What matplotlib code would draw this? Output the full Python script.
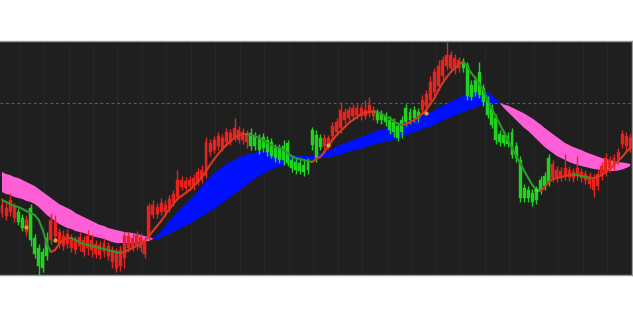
import numpy as np
import matplotlib
matplotlib.use("Agg")
import matplotlib.pyplot as plt
from matplotlib.collections import LineCollection, PolyCollection

# ---- data (screen-depth units, converted to price below) ----
opens = [213,216,212,218,212,218,232,208,238,248,252,238,240,236,244,246,244,248,250,246,
         252,248,250,254,255,252,256,262,268,266,258,248,247,245,248,254,236,215,214,212,
         212,208,203,197,187,188,186,186,182,180,176,152,150,146,148,142,142,138,140,140,
         142,133,136,138,137,140,142,148,148,146,143,160,162,163,165,162,130,135,138,146,
         146,136,132,128,120,118,116,115,116,116,113,116,112,114,116,120,122,126,120,108,
         112,110,112,110,106,100,92,86,76,66,68,70,68,62,65,85,80,72,88,100,
         108,118,134,135,136,132,146,160,188,190,193,190,180,176,158,178,178,177,176,177,
         178,176,178,180,184,190,186,176,172,168,166,160,144,146,148]
closes = [205,208,200,207,222,228,220,240,254,266,268,256,220,222,232,236,234,238,240,237,
          240,236,240,244,245,243,246,250,252,250,236,236,238,235,237,240,206,205,207,203,
          205,199,194,180,180,181,180,178,172,170,142,143,140,136,138,132,133,128,130,132,
          134,146,146,150,148,152,156,158,160,160,163,168,170,171,172,170,145,158,147,138,
          138,126,122,110,112,110,108,108,108,110,105,110,120,120,122,130,132,138,132,122,
          120,118,118,100,94,82,72,66,60,55,55,58,60,68,96,97,92,95,102,115,
          125,140,142,143,144,155,158,198,198,198,202,200,190,186,183,164,170,171,168,170,
          172,168,172,174,176,178,174,166,158,160,158,152,134,136,138]
highs = [198,202,193,203,208,214,215,204,234,244,248,232,213,215,228,230,229,234,236,232,
         236,230,234,240,241,238,242,246,248,246,232,232,233,231,233,236,203,200,203,198,
         200,195,190,170,176,177,176,174,168,165,137,139,136,132,134,128,129,118,126,128,
         130,128,132,134,133,136,138,144,144,140,140,156,158,159,160,158,127,130,134,134,
         135,122,118,102,108,106,104,104,104,100,97,106,109,110,112,116,118,122,116,104,
         108,106,108,95,90,76,68,60,56,42,51,54,57,58,62,80,76,62,84,96,
         104,114,130,131,132,128,142,156,184,186,189,186,176,172,154,160,166,167,154,166,
         168,156,168,170,172,174,170,162,153,156,154,148,130,132,134]
lows = [217,220,216,222,225,231,236,246,258,276,272,260,244,240,248,250,248,252,254,251,
        256,255,257,258,259,257,260,268,272,271,268,252,251,250,252,258,240,218,218,215,
        216,212,206,200,190,191,190,190,185,183,178,156,153,150,151,146,145,141,143,144,
        148,150,150,154,152,156,158,162,163,165,166,172,174,174,176,174,150,162,150,149,
        149,140,135,133,124,122,120,119,120,119,117,120,123,124,126,134,137,141,138,126,
        124,122,122,114,110,104,96,90,80,70,72,74,72,72,100,100,96,98,106,118,
        128,144,146,146,147,158,162,202,202,202,206,204,194,190,186,182,182,181,180,181,
        182,180,182,184,188,197,190,180,176,172,170,164,148,150,152]

# fast moving average (colored line)
ma_line = [200,202,204,206,207,209,211,213,215,220,230,244,252,250,244,240,238,238,240,242,
           244,245,246,247,248,249,250,251,252,253,252,250,248,246,244,241,236,231,226,221,
           215,209,204,199,196,193,190,186,182,177,171,165,159,154,149,145,141,138,135,134,
           134,135,136,138,140,143,145,147,148,150,153,156,158,159,160,161,162,159,157,152,
           146,140,135,131,127,123,120,117,114,113,112,111.5,112,114,116,118,121,124,125,124,
           122,120,117,114,110,104,98,90,83,77,72,68,64,62,66,73,78,84,90,100,
           108,116,124,132,140,148,156,163,171,178,185,190,191,187,182,179,178,177,176,175,
           174.5,175,176,177,178,178,177,175,172,169,165,161,157,152,148]

# band EMAs
ema_fast = [192,194,195,197,198,199,201,202,204,207,211,215,218,221,224,226,228,229,231,232,
            233,234.5,236,237,238,239,240.5,242,243,243,243,243,243,242.5,242,241.5,241,239,234,230,
            225,220,216,211,207,203,199,195,190,185,180,176,172,169,166,163,161,159,157,155,
            154,153,152,151,150.5,150,150,150.5,151,152,153,154.5,155,155,155,155.5,155.5,154,152.5,151,
            150,148,146,144,142.5,141,139.5,138,136.5,135,133,131.5,130,129,127.5,126,125,123.5,122,121,
            120,118.5,117,115,113,111.5,109.5,107,105,103,101,99,97,95,93,91.5,90.5,90,90,92,
            95,99,103,108,112,116,120,124,128,131,135,139,143,147,150,153,156,158,160,162,
            163.5,165,166,167,168,169,169.5,170,170.5,171,171,170.5,169.5,168,166]
ema_slow = [172,174,175,177,178,180,182,184,186,189,192,195,198,201,204,206,208,210,213,215,
            217,219,221,223,225,226,228,229,230,231,232,232.5,233,234,235,236,237,238.5,238.5,237,
            235,233,231,229,227,225,223,220.5,218,215.5,213,210.5,208,205,202,199,196,193,190,187,
            184,181,178,175.5,173,171,169,167.5,166,164.5,163,161.5,160.5,159.5,159,158.5,158.5,158,157.5,157,
            156.5,156,155,154,152.5,151,150,149,148,146.5,145,144,143,142,141.5,140.5,139.5,138,136,134.5,
            133,131.5,130,128.5,127,126,124,122,120,118,116.5,115,113,111.5,110,108.5,107,105.5,104,103,
            102.5,102.5,103,104.5,105.5,107.5,109.5,111.5,113.5,116,118.5,121.5,124.5,128,131,134,137,140,143,145,
            147,148.5,150,152,153.5,155,156.5,158,159,160,161,162,162.5,163,164]

# signal markers
signal_bars = [6, 13, 80, 104]
signal_levels = [227, 240, 145, 113]
turn_bars = [131]
turn_levels = [190]

# ---- convert screen depth to price level ----
BASE = 300.0
o = BASE - np.array(opens, float)
c = BASE - np.array(closes, float)
h = BASE - np.array(highs, float)
l = BASE - np.array(lows, float)
ma = BASE - np.array(ma_line, float)
ef = BASE - np.array(ema_fast, float)
es = BASE - np.array(ema_slow, float)
n = len(c)
x = np.arange(n)

RED = "#e8231f"
GREEN = "#1fd31f"
LINE_RED = "#d63a22"
LINE_GREEN = "#2e9a2a"
BG = "#1f1f1f"

fig = plt.figure(figsize=(6.33, 3.16), dpi=100, facecolor="white")
ax = fig.add_axes([0.0, 41 / 316, 632 / 633, 234 / 316])
ax.set_facecolor(BG)

# faint vertical grid
for gx in np.arange(4.3, n, 6):
    ax.axvline(gx, color="#262626", lw=0.8, zorder=0)

# dashed reference level
ax.axhline(BASE - 103, color="#1d7d68", lw=0.8, ls=(0, (2.5, 2.5)), zorder=1)

# EMA band
ax.fill_between(x, ef, es, where=ef >= es, interpolate=True, color="#0010ff", lw=0, zorder=2)
ax.fill_between(x, ef, es, where=ef < es, interpolate=True, color="#ff5fd6", lw=0, zorder=2)

# candles
up = c >= o
cols = np.where(up, RED, GREEN)
w = 0.36
ax.vlines(x, l, h, colors=cols, lw=1.0, zorder=3)
polys = []
for i in range(n):
    b0, b1 = min(o[i], c[i]), max(o[i], c[i])
    if b1 - b0 < 0.8:
        b1 = b0 + 0.8
    polys.append([(i - w, b0), (i + w, b0), (i + w, b1), (i - w, b1)])
ax.add_collection(PolyCollection(polys, facecolors=cols, edgecolors=cols, lw=0.3, zorder=4))

# colored moving average
pts = np.column_stack([x, ma])
segs = np.stack([pts[:-1], pts[1:]], axis=1)
seg_cols = [LINE_RED if ma[i + 1] >= ma[i] else LINE_GREEN for i in range(n - 1)]
ax.add_collection(LineCollection(segs, colors=seg_cols, lw=1.5, zorder=5,
                                 capstyle="round", joinstyle="round"))

# signal dots
ax.scatter(signal_bars, BASE - np.array(signal_levels, float), s=9, color="#e8a020",
           zorder=6, linewidths=0)
ax.scatter(turn_bars, BASE - np.array(turn_levels, float), s=9, color="#40e040",
           zorder=6, linewidths=0)

ax.set_xlim(-2 / 4.08, 630 / 4.08)
ax.set_ylim(BASE - 275, BASE - 41)
ax.set_xticks([])
ax.set_yticks([])
for side in ("top", "bottom", "right"):
    ax.spines[side].set_color("#9a9a9a")
    ax.spines[side].set_linewidth(1.0)
ax.spines["left"].set_visible(False)

fig.savefig("out.png", dpi=100, facecolor="white")
